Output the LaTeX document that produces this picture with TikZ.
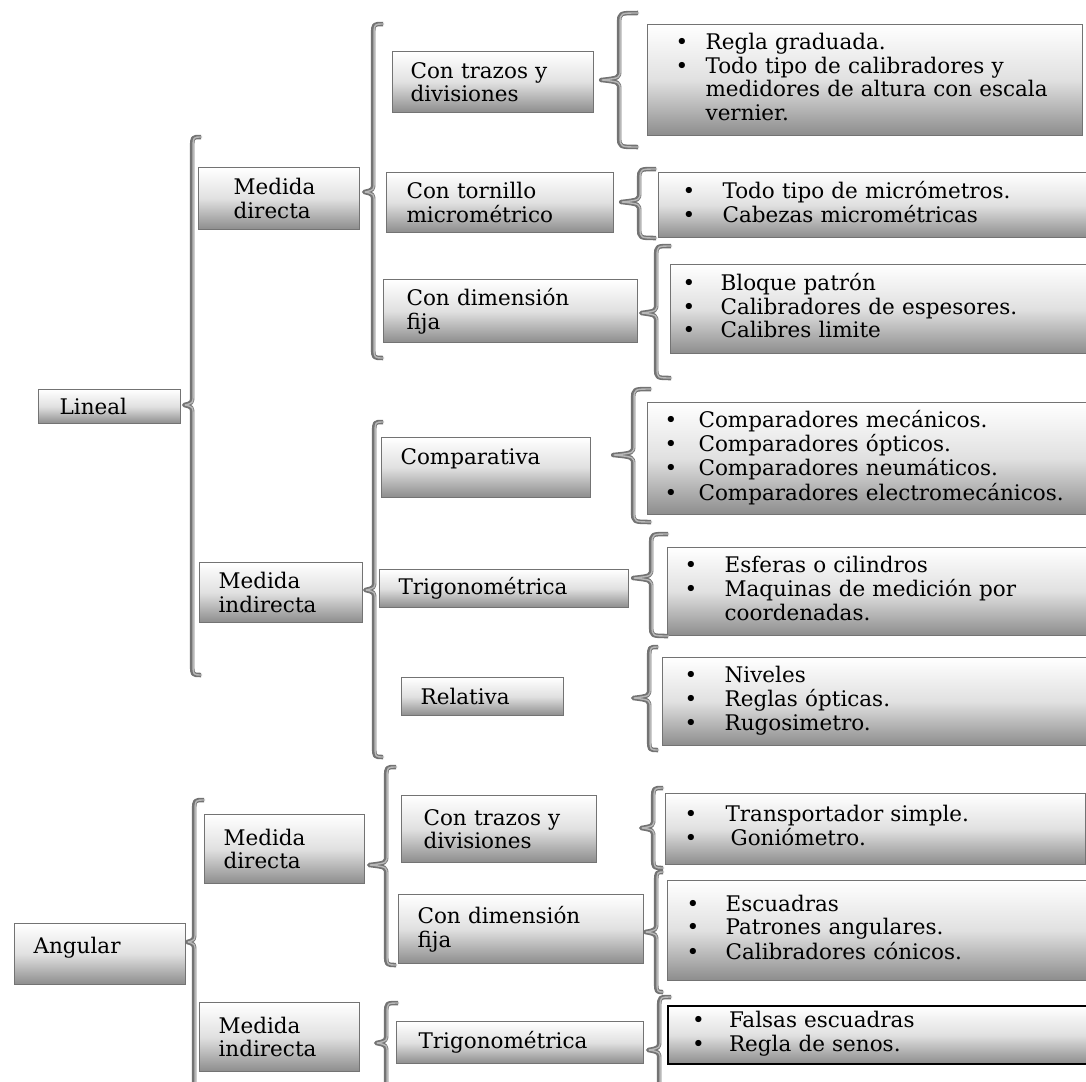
\documentclass[tikz,border=0pt]{standalone}
\usepackage{fontspec}
\setmainfont{DejaVu Serif}
\usepackage{array}
\usetikzlibrary{calc}

% lista con vinetas: ancho de la columna del punto, filas
\newcommand{\vinetas}[2]{\begin{tabular}{@{}p{#1pt}@{}l@{}}#2\end{tabular}}
% llave: nodo padre, separacion, y de la punta, dx del lomo, dx del extremo, y arriba, y abajo
\newcommand{\llave}[7]{%
  \draw[llave] let \p1=(#1.east) in
    (\x1+#2pt+#5pt,-#6pt)
    .. controls (\x1+#2pt+#4pt,-#6pt) .. (\x1+#2pt+#4pt,-#6pt-10pt)
    -- (\x1+#2pt+#4pt,-#3pt+10pt)
    .. controls (\x1+#2pt+#4pt,-#3pt+2pt) .. (\x1+#2pt,-#3pt)
    .. controls (\x1+#2pt+#4pt,-#3pt-2pt) .. (\x1+#2pt+#4pt,-#3pt-10pt)
    -- (\x1+#2pt+#4pt,-#7pt+10pt)
    .. controls (\x1+#2pt+#4pt,-#7pt) .. (\x1+#2pt+#5pt,-#7pt);}

\begin{document}
\begin{tikzpicture}[x=1pt, y=-1pt]
	\tikzstyle{caja}=[rectangle, draw=black!55, line width=1.2pt, top color=white, bottom color=black!45, middle color=black!12, anchor=north west, align=left, inner ysep=2pt, font=\fontsize{21.5}{23.5}\selectfont]
	\tikzstyle{lista}=[caja, minimum height=88pt]
	\tikzstyle{llave}=[draw=black!55, line width=4.5pt, line join=round, postaction={draw=black!28, line width=1.4pt, transform canvas={xshift=0.9pt}}]
	\useasboundingbox (0,0) rectangle (1086,1081);
	\clip (0,0) rectangle (1086,1081);

	% primer nivel
	\node[caja, text width=100pt, inner xsep=21pt, minimum height=34pt] (lin) at (38,389) {Lineal};
	\node[caja, text width=133pt, inner xsep=19pt, minimum height=61pt, text depth=18pt] (ang) at (14,923) {Angular};

	% segundo nivel
	\node[caja, text width=91pt, inner xsep=35pt, minimum height=62pt] (mdl) at (198,167) {Medida\\directa};
	\node[caja, text width=125pt, inner xsep=19pt, minimum height=60pt] (mil) at (199,562) {Medida\\indirecta};
	\node[caja, text width=122pt, inner xsep=19pt, minimum height=69pt] (mda) at (204,814) {Medida\\directa};
	\node[caja, text width=122pt, inner xsep=19pt, minimum height=69pt] (mia) at (199,1002) {Medida\\indirecta};

	% tercer nivel
	\node[caja, text width=165pt, inner xsep=18pt, minimum height=61pt] (ctd1) at (392,51) {Con trazos y\\divisiones};
	\node[caja, text width=187pt, inner xsep=20pt, minimum height=60pt] (ctm) at (386,172) {Con tornillo\\micrométrico};
	\node[caja, text width=208pt, inner xsep=23pt, minimum height=63pt] (cdf1) at (383,279) {Con dimensión\\fija};
	\node[caja, text width=171pt, inner xsep=19pt, minimum height=60pt, text depth=23pt] (comp) at (381,437) {Comparativa};
	\node[caja, text width=211pt, inner xsep=19pt, minimum height=38pt] (trig1) at (379,569) {Trigonométrica};
	\node[caja, text width=124pt, inner xsep=19pt, minimum height=38pt] (rel) at (401,677) {Relativa};
	\node[caja, text width=151pt, inner xsep=22pt, minimum height=67pt] (ctd2) at (401,795) {Con trazos y\\divisiones};
	\node[caja, text width=207pt, inner xsep=19pt, minimum height=69pt] (cdf2) at (398,894) {Con dimensión\\fija};
	\node[caja, text width=203pt, inner xsep=22pt, minimum height=42pt] (trig2) at (396,1021) {Trigonométrica};

	% instrumentos
	\node[lista, text width=379pt, inner xsep=28pt, minimum height=111pt] (it1) at (647,24) {\vinetas{30}{\textbullet & Regla graduada.\\ \textbullet & Todo tipo de calibradores y\\ & medidores de altura con escala\\ & vernier.}};
	\node[lista, text width=384pt, inner xsep=24pt, minimum height=65pt] (it2) at (658,172) {\vinetas{40}{\textbullet & Todo tipo de micrómetros.\\ \textbullet & Cabezas micrométricas}};
	\node[lista, text width=396pt, inner xsep=12pt, minimum height=89pt] (it3) at (670,264) {\vinetas{38}{\textbullet & Bloque patrón\\ \textbullet & Calibradores de espesores.\\ \textbullet & Calibres limite}};
	\node[lista, text width=409pt, inner xsep=17pt, minimum height=112pt] (it4) at (647,402) {\vinetas{34}{\textbullet & Comparadores mecánicos.\\ \textbullet & Comparadores ópticos.\\ \textbullet & Comparadores neumáticos.\\ \textbullet & Comparadores electromecánicos.}};
	\node[lista, text width=389pt, inner xsep=17pt] (it5) at (667,547) {\vinetas{40}{\textbullet & Esferas o cilindros\\ \textbullet & Maquinas de medición por\\ & coordenadas.}};
	\node[lista, text width=384pt, inner xsep=22pt] (it6) at (662,657) {\vinetas{40}{\textbullet & Niveles\\ \textbullet & Reglas ópticas.\\ \textbullet & Rugosimetro.}};
	\node[lista, text width=382pt, inner xsep=19pt, minimum height=71pt] (it7) at (665,793) {\vinetas{41}{\textbullet & Transportador simple.\\ \textbullet & \hspace{5pt}Goniómetro.}};
	\node[lista, text width=385pt, inner xsep=19pt, minimum height=100pt] (it8) at (667,880) {\vinetas{39}{\textbullet & Escuadras\\ \textbullet & Patrones angulares.\\ \textbullet & Calibradores cónicos.}};
	\node[lista, draw=black, line width=2pt, text width=375pt, inner xsep=24pt, minimum height=58pt] (it9) at (667,1005) {\vinetas{37}{\textbullet & Falsas escuadras\\ \textbullet & Regla de senos.}};

	% llaves
	\llave{lin}{3}{405}{8}{17}{137}{675}
	\llave{ang}{1}{942}{7}{17}{800}{1100}
	\llave{mdl}{4}{192}{9}{19}{24}{358}
	\llave{mil}{2}{590}{9}{18}{422}{757}
	\llave{mda}{4}{865}{17}{27}{767}{965}
	\llave{mia}{16}{1043}{10}{22}{1003}{1100}
	\llave{ctd1}{7}{80}{18}{37}{13}{147}
	\llave{ctm}{7}{202}{18}{35}{169}{238}
	\llave{cdf1}{3}{313}{15}{30}{246}{378}
	\llave{comp}{22}{455}{20}{38}{389}{522}
	\llave{trig1}{4}{578}{18}{35}{534}{636}
	\llave{rel}{69}{698}{16}{25}{647}{750}
	\llave{ctd2}{44}{828}{12}{22}{788}{868}
	\llave{cdf2}{1}{932}{11}{18}{872}{992}
	\llave{trig2}{4}{1050}{11}{23}{997}{1100}
\end{tikzpicture}
\end{document}
